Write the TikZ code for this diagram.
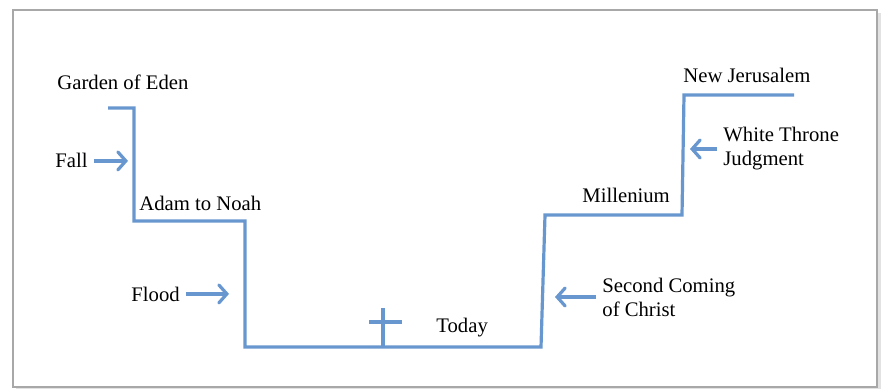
\documentclass[tikz,border=0pt]{standalone}
\usepackage{fontspec}
\setmainfont{Liberation Serif}
\usetikzlibrary{arrows.meta}
\definecolor{StairBlue}{HTML}{6797CE}
\definecolor{FrameGray}{HTML}{A8A8A8}
\definecolor{ShadowGray}{HTML}{E2E2E2}

\begin{document}
\begin{tikzpicture}[x=0.5pt, y=-0.5pt,
    label/.style={inner sep=3pt, font=\fontsize{10.35}{12}\selectfont},
    stair/.style={StairBlue, line width=1.6pt, line join=miter},
    pointer/.style={StairBlue, line width=1.6pt,
        -{Straight Barb[length=4pt, width=9pt, line cap=round]}}]
                \useasboundingbox (0,0) rectangle (882,389);
                
                % Frame
                \fill[ShadowGray] (16,13) rectangle (881,389);
                \filldraw[fill=white, draw=FrameGray, line width=0.6pt] (13,10) rectangle (877,387);
                
                % Staircase
                \draw[stair] (108,108) -- (134,108) -- (134,221) -- (245,221) -- (245,347)
                    -- (541,347) -- (545,215) -- (682,215) -- (684,95) -- (794,95);
                
                % Cross
                \draw[stair] (383,308) -- (383,347);
                \draw[stair] (369,322) -- (402,322);
                
                % Labels
                \node[label, anchor=base west] (eden) at (51,90) {Garden of Eden};
                \node[label, anchor=base west] (fall) at (49,168) {Fall};
                \node[label, anchor=base west] (adam) at (133,211) {Adam to Noah};
                \node[label, anchor=base west] (flood) at (125,301) {Flood};
                \node[label, anchor=base west] (today) at (430,332) {Today};
                \node[label, anchor=base west] (mill) at (576,203) {Millenium};
                \node[label, anchor=base west] (newjer) at (677,83) {New Jerusalem};
                \node[label, anchor=west, align=left] (second) at (596,297) {Second Coming\\of Christ};
                \node[label, anchor=west, align=left] (throne) at (717,149) {White Throne\\Judgment};
                
                % Arrow targets on the line
                \coordinate (fallpt) at (128,162);
                \coordinate (floodpt) at (229,294);
                \coordinate (secondpt) at (555,294);
                \coordinate (thronept) at (690,144);
                
                % Pointers
                \draw[pointer] (fall.east) -- (fall.east -| fallpt);
                \draw[pointer] (flood.east) -- (flood.east -| floodpt);
                \draw[pointer] (second.west) -- (second.west -| secondpt);
                \draw[pointer] (throne.west) -- (throne.west -| thronept);
            \end{tikzpicture}
\end{document}
